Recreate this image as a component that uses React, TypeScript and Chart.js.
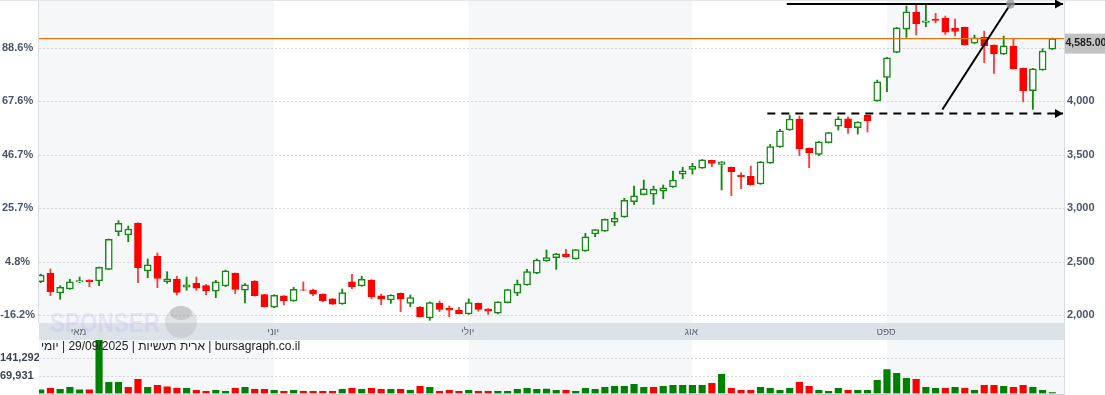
import React, { useEffect, useRef } from 'react';
import { Chart, registerables } from 'chart.js';

Chart.register(...registerables);

// ---------- data ----------
const OPEN = [
  2311, 2390, 2206, 2243, 2309, 2327, 2318, 2427, 2779, 2748,
  2860, 2411, 2549, 2311, 2334, 2259, 2296, 2274, 2222, 2271,
  2390, 2231, 2318, 2190, 2072, 2178, 2131, 2236, 2234, 2194,
  2150, 2103, 2309, 2271, 2327, 2178, 2140, 2203, 2109, 2075,
  1972, 2109, 2063, 2044, 2009, 2109, 2056, 2016, 2115, 2203,
  2281, 2390, 2505, 2536, 2570, 2524, 2598, 2757, 2785, 2867,
  2916, 3059, 3125, 3131, 3159, 3197, 3318, 3362, 3374, 3446,
  3409, 3381, 3309, 3297, 3225, 3421, 3571, 3730, 3833, 3559,
  3502, 3611, 3767, 3835, 3751, 3867, 4001, 4222, 4456, 4674,
  4830, 4737, 4768, 4774, 4681, 4690, 4543, 4596, 4525, 4440,
  4515, 4307, 4097, 4291, 4487,
];
const HIGH = [
  2382, 2430, 2274, 2334, 2355, 2330, 2449, 2711, 2882, 2832,
  2863, 2524, 2580, 2405, 2362, 2355, 2355, 2287, 2324, 2420,
  2393, 2293, 2321, 2193, 2190, 2181, 2259, 2309, 2243, 2197,
  2153, 2243, 2381, 2362, 2330, 2194, 2190, 2206, 2187, 2078,
  2122, 2131, 2084, 2072, 2150, 2112, 2060, 2125, 2240, 2327,
  2427, 2524, 2608, 2576, 2614, 2614, 2764, 2801, 2898, 2960,
  3091, 3206, 3262, 3206, 3216, 3346, 3381, 3418, 3455, 3448,
  3436, 3384, 3330, 3393, 3436, 3596, 3736, 3870, 3861, 3562,
  3624, 3708, 3854, 3854, 3808, 3870, 4197, 4409, 4690, 4889,
  4908, 4898, 4821, 4796, 4768, 4693, 4618, 4655, 4527, 4609,
  4583, 4310, 4306, 4490, 4590,
];
const LOW = [
  2302, 2180, 2147, 2240, 2302, 2265, 2274, 2424, 2741, 2685,
  2302, 2349, 2255, 2296, 2187, 2231, 2231, 2187, 2162, 2265,
  2199, 2112, 2177, 2075, 2068, 2094, 2128, 2229, 2180, 2124,
  2097, 2100, 2246, 2268, 2152, 2096, 2109, 2031, 2078, 1982,
  1950, 2031, 1984, 2010, 2006, 2035, 2006, 2010, 2112, 2180,
  2278, 2387, 2502, 2427, 2540, 2521, 2595, 2732, 2782, 2835,
  2913, 3035, 3122, 3035, 3087, 3194, 3274, 3318, 3371, 3387,
  3169, 3115, 3181, 3215, 3222, 3418, 3568, 3727, 3489, 3377,
  3489, 3608, 3730, 3699, 3692, 3711, 3998, 4088, 4453, 4596,
  4621, 4696, 4733, 4624, 4609, 4524, 4540, 4359, 4260, 4437,
  4300, 3994, 3923, 4288, 4484,
];
const CLOSE = [
  2374, 2218, 2259, 2311, 2321, 2311, 2446, 2708, 2857, 2804,
  2442, 2468, 2343, 2338, 2212, 2283, 2250, 2224, 2311, 2414,
  2240, 2283, 2180, 2078, 2184, 2134, 2240, 2232, 2194, 2134,
  2100, 2209, 2265, 2334, 2171, 2147, 2187, 2147, 2162, 1984,
  2115, 2053, 2044, 2012, 2115, 2053, 2035, 2122, 2237, 2290,
  2405, 2514, 2536, 2573, 2545, 2611, 2732, 2798, 2895, 2904,
  3072, 3115, 3181, 3175, 3190, 3262, 3349, 3390, 3452, 3418,
  3433, 3340, 3293, 3218, 3433, 3574, 3723, 3833, 3552, 3515,
  3620, 3705, 3835, 3751, 3805, 3817, 4181, 4406, 4686, 4836,
  4724, 4752, 4755, 4645, 4652, 4527, 4593, 4518, 4443, 4518,
  4303, 4097, 4303, 4468, 4585,
];
const VOLUME = [
  14700, 21000, 17000, 25000, 14700, 14700, 212800, 44800, 44800, 25000,
  56700, 25000, 32900, 26600, 21000, 21000, 13100, 9100, 13100, 9100,
  21000, 25000, 17000, 17000, 13100, 9100, 13100, 9100, 9100, 9100,
  9100, 17000, 21000, 17000, 21000, 17000, 17000, 17000, 13100, 28900,
  25000, 9100, 13100, 9100, 13100, 9100, 9100, 9100, 9100, 17000,
  21000, 17000, 17800, 13100, 13100, 9100, 21000, 17000, 25000, 28900,
  28900, 36900, 25000, 25000, 28900, 32900, 32900, 32900, 32900, 40800,
  76500, 21000, 13100, 13100, 25000, 21000, 13100, 21000, 44800, 28900,
  13100, 9100, 21000, 13100, 13100, 13100, 52700, 96300, 80500, 60600,
  56700, 25000, 21000, 21000, 25000, 21000, 13100, 32900, 32900, 28900,
  25000, 32900, 25000, 13100, 4000,
];
// 1 = green volume bar, 0 = red volume bar
const VOLUME_UP = [
  1, 0, 1, 1, 1, 0, 1, 1, 1, 0,
  0, 1, 0, 0, 0, 1, 0, 0, 1, 1,
  0, 1, 0, 0, 1, 0, 1, 0, 0, 0,
  0, 1, 0, 1, 0, 0, 1, 0, 1, 0,
  1, 0, 0, 0, 1, 0, 0, 1, 1, 1,
  1, 1, 1, 1, 0, 1, 1, 1, 1, 1,
  1, 1, 1, 0, 1, 1, 1, 1, 1, 0,
  1, 0, 0, 0, 1, 1, 1, 1, 0, 0,
  1, 1, 1, 0, 1, 1, 1, 1, 1, 1,
  0, 1, 1, 0, 1, 0, 1, 0, 0, 1,
  0, 0, 1, 1, 1,
];

const PRICE_TICKS = [2000, 2500, 3000, 3500, 4000, 4500];
const PERCENT_BASE = 2386.4;
const VOLUME_TICKS = [69931, 141292];
const MONTH_NAMES = ['מאי', 'יוני', 'יולי', 'אוג', 'ספט'];
const MONTH_START = [4, 24, 44, 67, 87];
const LAST_PRICE = 4585;
// drawn annotation lines: [candle index, price]
const RESIST_LINE = [[76.7, 4909], [105.1, 4909]];
const SUPPORT_LINE = [[74.7, 3885], [105.1, 3885]];
const TREND_LINE = [[92.7, 3922], [99.7, 4909]];
const CAPTION = 'bursagraph.co.il | ארית תעשיות | 29/09/2025 | יומי';
const WATERMARK = 'SPONSER';

// ---------- layout / style ----------
const X_MIN = -0.175;
const X_MAX = 105.2;
const Y_MIN = 1925;
const Y_MAX = 4946;
const VOL_MAX = 214500;
const FONT = "'Liberation Sans', Arial, sans-serif";
const GREEN = '#128a12';
const RED = '#ff0000';
const SHADE = '#f6f7f9';
const STRIP = '#dde1e8';
const GRID = '#d4d7dc';
const AXIS_LINE = '#d8dbe0';
const LABEL = '#4a5568';

const idx = OPEN.map((_, i) => i);
const isUp = idx.map((i) => CLOSE[i] >= OPEN[i]);

function drawMonthShading(chart: any, top: number, bottom: number) {
  const { ctx, chartArea: a, scales } = chart;
  const x = scales.x;
  const bounds = [a.left, ...MONTH_START.slice(1).map((m) => x.getPixelForValue(m)), a.right];
  for (let k = 0; k < bounds.length - 1; k++) {
    ctx.fillStyle = k % 2 === 0 ? SHADE : '#ffffff';
    ctx.fillRect(bounds[k], top, bounds[k + 1] - bounds[k], bottom - top);
  }
}

function dottedH(ctx: any, x1: number, x2: number, y: number) {
  ctx.save();
  ctx.strokeStyle = GRID;
  ctx.lineWidth = 1;
  ctx.setLineDash([2, 2]);
  ctx.beginPath();
  const yy = Math.round(y) + 0.5;
  ctx.moveTo(x1, yy);
  ctx.lineTo(x2, yy);
  ctx.stroke();
  ctx.restore();
}

function arrowHead(ctx: any, x: number, y: number) {
  ctx.beginPath();
  ctx.moveTo(x, y);
  ctx.lineTo(x - 8, y - 4.5);
  ctx.lineTo(x - 8, y + 4.5);
  ctx.closePath();
  ctx.fill();
}

const mainDecor = {
  id: 'mainDecor',
  beforeDraw(chart: any) {
    const { ctx, chartArea: a } = chart;
    ctx.save();
    ctx.fillStyle = '#ffffff';
    ctx.fillRect(0, 0, chart.width, chart.height);
    drawMonthShading(chart, a.top, a.bottom);
    ctx.restore();
  },
  beforeDatasetsDraw(chart: any) {
    const { ctx, chartArea: a, scales } = chart;
    ctx.save();
    PRICE_TICKS.forEach((v) => dottedH(ctx, a.left, a.right, scales.y.getPixelForValue(v)));
    ctx.fillStyle = AXIS_LINE;
    ctx.fillRect(a.left - 1, 0, 1, a.bottom);
    ctx.fillRect(a.right, 0, 1, chart.height);
    ctx.fillStyle = '#e4e6e9';
    ctx.fillRect(0, 0, chart.width, 1);
    ctx.restore();
  },
  afterDatasetsDraw(chart: any) {
    const { ctx, chartArea: a, scales } = chart;
    const x = scales.x;
    const y = scales.y;
    ctx.save();
    // last price line
    ctx.strokeStyle = '#d9780f';
    ctx.lineWidth = 1.3;
    const ly = y.getPixelForValue(LAST_PRICE);
    ctx.beginPath();
    ctx.moveTo(a.left, ly);
    ctx.lineTo(a.right, ly);
    ctx.stroke();

    // annotations
    ctx.strokeStyle = '#000';
    ctx.fillStyle = '#000';
    ctx.lineWidth = 2;
    const seg = (pts: number[][], dash: number[]) => {
      ctx.setLineDash(dash);
      ctx.beginPath();
      ctx.moveTo(x.getPixelForValue(pts[0][0]), y.getPixelForValue(pts[0][1]));
      ctx.lineTo(x.getPixelForValue(pts[1][0]), y.getPixelForValue(pts[1][1]));
      ctx.stroke();
      ctx.setLineDash([]);
    };
    seg(RESIST_LINE, []);
    arrowHead(ctx, x.getPixelForValue(RESIST_LINE[1][0]), y.getPixelForValue(RESIST_LINE[1][1]));
    seg(SUPPORT_LINE, [8, 6]);
    arrowHead(ctx, x.getPixelForValue(SUPPORT_LINE[1][0]), y.getPixelForValue(SUPPORT_LINE[1][1]));
    seg(TREND_LINE, []);
    ctx.fillStyle = 'rgba(150,150,150,0.75)';
    ctx.beginPath();
    ctx.arc(x.getPixelForValue(TREND_LINE[1][0]), y.getPixelForValue(TREND_LINE[1][1]), 4.5, 0, Math.PI * 2);
    ctx.fill();
    ctx.restore();
  },
  afterDraw(chart: any) {
    const { ctx, chartArea: a, scales } = chart;
    const x = scales.x;
    const y = scales.y;
    ctx.save();
    // month strip
    ctx.fillStyle = STRIP;
    ctx.fillRect(a.left, a.bottom, a.right - a.left, chart.height - a.bottom);
    ctx.fillStyle = '#5d6573';
    ctx.font = `10px ${FONT}`;
    ctx.textAlign = 'center';
    ctx.textBaseline = 'middle';
    MONTH_START.forEach((m, k) => {
      ctx.fillText(MONTH_NAMES[k], x.getPixelForValue(m) - 1, a.bottom + 9);
    });
    // watermark
    ctx.fillStyle = 'rgba(196,190,245,0.35)';
    ctx.font = `bold 27px ${FONT}`;
    ctx.textAlign = 'left';
    ctx.textBaseline = 'alphabetic';
    ctx.fillText(WATERMARK, 50, 332, 110);
    ctx.fillStyle = 'rgba(130,130,130,0.18)';
    ctx.beginPath();
    ctx.arc(181, 322, 16, 0, Math.PI * 2);
    ctx.fill();
    ctx.fillStyle = 'rgba(110,110,110,0.2)';
    ctx.beginPath();
    ctx.ellipse(181, 313, 11, 7, 0, 0, Math.PI * 2);
    ctx.fill();
    // last price box
    const ly = y.getPixelForValue(LAST_PRICE);
    ctx.fillStyle = '#c3c3c3';
    ctx.fillRect(a.right + 1, ly - 5, chart.width - a.right - 1, 20);
    ctx.fillStyle = '#1e1e1e';
    ctx.font = `bold 10.5px ${FONT}`;
    ctx.textAlign = 'left';
    ctx.textBaseline = 'middle';
    ctx.fillText(LAST_PRICE.toLocaleString('en-US', { minimumFractionDigits: 2 }), a.right + 1.5, ly + 5);
    ctx.restore();
  },
};

const volDecor = {
  id: 'volDecor',
  beforeDraw(chart: any) {
    const { ctx } = chart;
    ctx.save();
    ctx.fillStyle = '#ffffff';
    ctx.fillRect(0, 0, chart.width, chart.height);
    drawMonthShading(chart, 0, chart.height);
    ctx.restore();
  },
  beforeDatasetsDraw(chart: any) {
    const { ctx, chartArea: a, scales } = chart;
    VOLUME_TICKS.forEach((v) => dottedH(ctx, a.left, a.right, scales.y.getPixelForValue(v)));
  },
  afterDraw(chart: any) {
    const { ctx, chartArea: a } = chart;
    ctx.save();
    ctx.fillStyle = AXIS_LINE;
    ctx.fillRect(a.right, 0, 1, chart.height);
    ctx.fillStyle = '#cdd1d6';
    ctx.fillRect(a.left, a.bottom + 0.5, a.right - a.left, 1);
    ctx.fillStyle = '#222222';
    ctx.font = `12px ${FONT}`;
    ctx.direction = 'rtl';
    ctx.textAlign = 'left';
    ctx.textBaseline = 'middle';
    ctx.fillText(CAPTION, a.left + 2, 7);
    ctx.restore();
  },
};

export default function App() {
  const mainRef = useRef<HTMLCanvasElement | null>(null);
  const volRef = useRef<HTMLCanvasElement | null>(null);

  useEffect(() => {
    if (!mainRef.current || !volRef.current) return;
    const tickFont = { family: FONT, size: 11, weight: 'bold' as const };

    const main = new Chart(mainRef.current, {
      type: 'bar',
      data: {
        datasets: [
          {
            data: idx.map((i) => ({ x: i, y: [OPEN[i], CLOSE[i]] })) as any,
            order: 0,
            grouped: false,
            barThickness: 7,
            borderWidth: 1.5,
            borderSkipped: false,
            backgroundColor: isUp.map((u) => (u ? '#ffffff' : RED)),
            borderColor: isUp.map((u) => (u ? GREEN : RED)),
          },
          {
            data: idx.map((i) => ({ x: i, y: [LOW[i], HIGH[i]] })) as any,
            order: 1,
            grouped: false,
            barThickness: 1.2,
            borderWidth: 0,
            backgroundColor: isUp.map((u) => (u ? GREEN : '#ff3b3b')),
          },
        ],
      },
      options: {
        responsive: false,
        animation: false,
        events: [],
        layout: { padding: { top: 0, bottom: 17, left: 0, right: 0 } },
        plugins: { legend: { display: false }, tooltip: { enabled: false } },
        scales: {
          x: { type: 'linear', min: X_MIN, max: X_MAX, display: false, offset: false },
          y: {
            position: 'right',
            min: Y_MIN,
            max: Y_MAX,
            afterBuildTicks: (s: any) => { s.ticks = PRICE_TICKS.map((v) => ({ value: v })); },
            afterFit: (s: any) => { s.width = 41; s.paddingTop = 0; s.paddingBottom = 0; },
            grid: { display: false, drawTicks: false },
            border: { display: false },
            ticks: {
              padding: 3,
              font: tickFont,
              color: LABEL,
              callback: (v: any) => Number(v).toLocaleString('en-US'),
            },
          },
          pct: {
            position: 'left',
            min: Y_MIN,
            max: Y_MAX,
            afterBuildTicks: (s: any) => { s.ticks = PRICE_TICKS.map((v) => ({ value: v })); },
            afterFit: (s: any) => { s.width = 39; s.paddingTop = 0; s.paddingBottom = 0; },
            grid: { display: false, drawTicks: false },
            border: { display: false },
            ticks: {
              padding: 4,
              crossAlign: 'center',
              font: tickFont,
              color: LABEL,
              callback: (v: any) => ((Number(v) / PERCENT_BASE - 1) * 100).toFixed(1) + '%',
            },
          },
        },
      } as any,
      plugins: [mainDecor],
    });

    const vol = new Chart(volRef.current, {
      type: 'bar',
      data: {
        datasets: [
          {
            data: idx.map((i) => ({ x: i, y: VOLUME[i] })) as any,
            barThickness: 6.5,
            borderWidth: 0,
            backgroundColor: VOLUME_UP.map((u) => (u ? '#008000' : RED)),
          },
        ],
      },
      options: {
        responsive: false,
        animation: false,
        events: [],
        layout: { padding: { top: 0, bottom: 1.5, left: 0, right: 41 } },
        plugins: { legend: { display: false }, tooltip: { enabled: false } },
        scales: {
          x: { type: 'linear', min: X_MIN, max: X_MAX, display: false, offset: false },
          y: {
            position: 'left',
            min: 0,
            max: VOL_MAX,
            afterBuildTicks: (s: any) => { s.ticks = VOLUME_TICKS.map((v) => ({ value: v })); },
            afterFit: (s: any) => { s.width = 39; s.paddingTop = 0; s.paddingBottom = 0; },
            grid: { display: false, drawTicks: false },
            border: { display: false },
            ticks: {
              padding: 0,
              crossAlign: 'far',
              font: tickFont,
              color: '#3b4453',
              callback: (v: any) => Number(v).toLocaleString('en-US'),
            },
          },
        },
      } as any,
      plugins: [volDecor],
    });

    return () => {
      main.destroy();
      vol.destroy();
    };
  }, []);

  return (
    <div style={{ position: 'absolute', left: 0, top: 0, width: 1105, height: 395, background: '#fff', overflow: 'hidden' }}>
      <canvas ref={mainRef} width={1105} height={340} style={{ position: 'absolute', left: 0, top: 0, width: 1105, height: 340 }} />
      <canvas ref={volRef} width={1105} height={55} style={{ position: 'absolute', left: 0, top: 340, width: 1105, height: 55 }} />
    </div>
  );
}
